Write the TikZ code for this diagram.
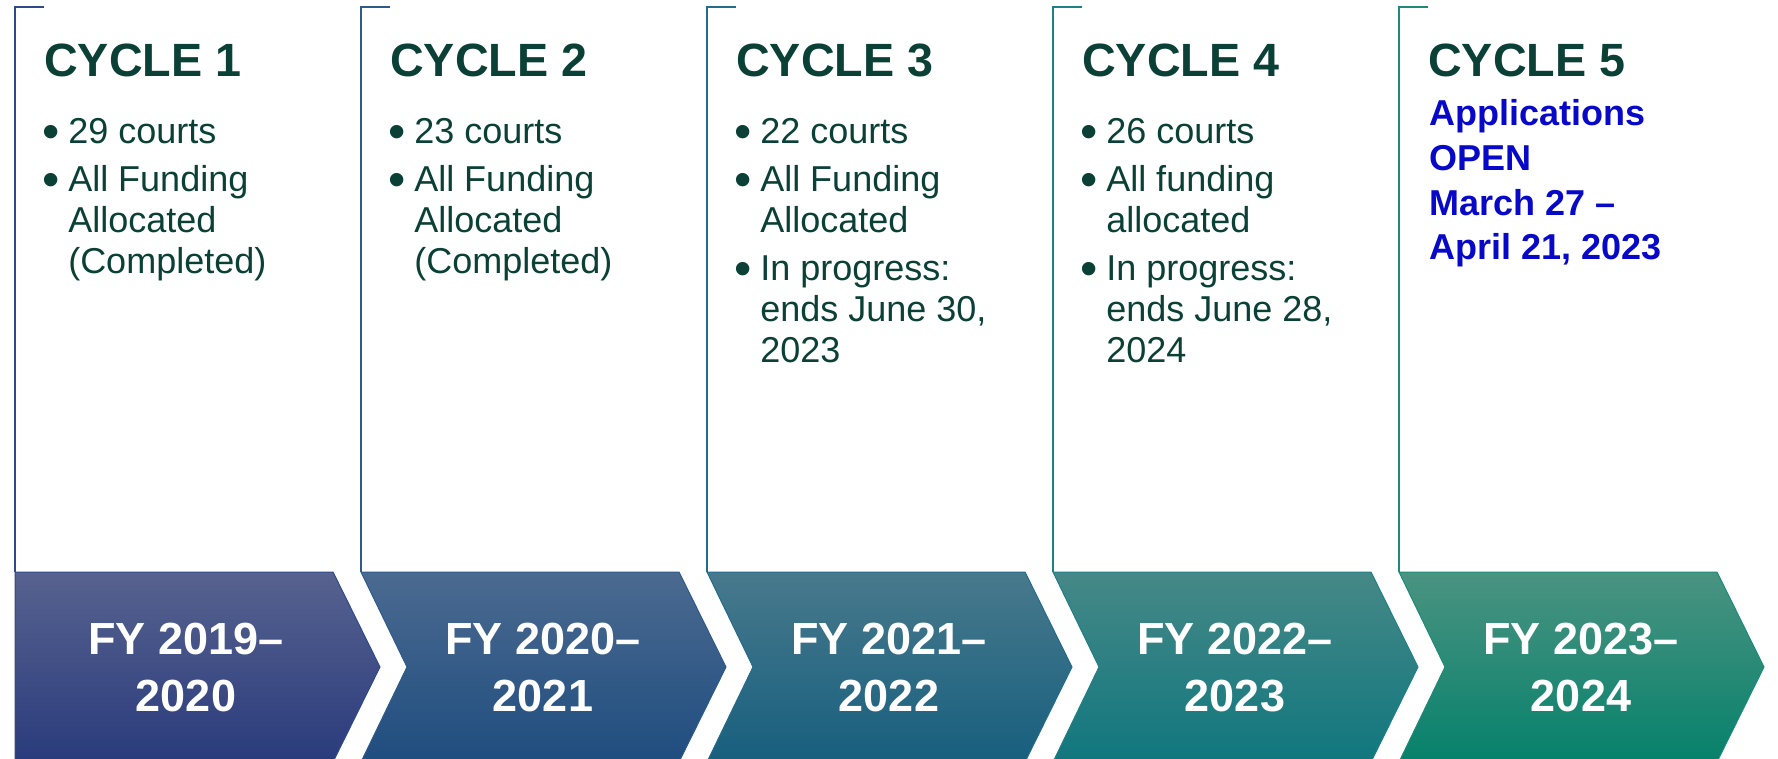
\documentclass[tikz,border=0pt]{standalone}
\usepackage{fontspec}
\usepackage{graphicx}
\setmainfont{Liberation Sans}

\definecolor{cycgreen}{RGB}{10,64,53}
\definecolor{openblue}{RGB}{8,8,200}
% bracket lines
\definecolor{lineA}{RGB}{47,74,139}
\definecolor{lineB}{RGB}{46,90,140}
\definecolor{lineC}{RGB}{35,108,140}
\definecolor{lineD}{RGB}{31,128,136}
\definecolor{lineE}{RGB}{28,140,120}
% chevron fills
\definecolor{topA}{RGB}{87,98,143}
\definecolor{botA}{RGB}{42,59,124}
\definecolor{topB}{RGB}{75,106,144}
\definecolor{botB}{RGB}{31,77,127}
\definecolor{topC}{RGB}{72,121,140}
\definecolor{botC}{RGB}{23,95,126}
\definecolor{topD}{RGB}{70,136,135}
\definecolor{botD}{RGB}{16,119,126}
\definecolor{topE}{RGB}{74,147,129}
\definecolor{botE}{RGB}{6,129,107}

% larger list bullet
\newcommand{\cycdot}{\makebox[9.45pt][c]{\raisebox{-3.6pt}{\fontsize{37}{37}\selectfont\textbullet}}}

\tikzset{
  bracket/.style={line width=1.1pt},
  cychead/.style={anchor=base west, inner sep=0pt, text=cycgreen, font=\fontsize{35}{40}\selectfont\bfseries},
  cyclist/.style={anchor=base west, inner sep=0pt, text=cycgreen, font=\fontsize{27}{30.75}\selectfont},
  openlist/.style={anchor=base west, inner sep=0pt, text=openblue, font=\fontsize{27}{33.5}\selectfont\bfseries},
  fylabel/.style={inner sep=0pt, text=white, align=center, font=\fontsize{33.75}{42.75}\selectfont\bfseries},
}

\begin{document}
\begin{tikzpicture}[x=0.75pt,y=0.75pt,yscale=-1,xscale=1]
\useasboundingbox (0,0) rectangle (1778,759);

%Shape: Pentagon [id:fy1] 
\draw [draw=lineA, line width=0.75, top color=topA, middle color=botA, bottom color=botA]  (15,572) -- (333,572) -- (380,667) -- (333,762) -- (15,762) -- cycle ;
%Shape: Chevron [id:fy2] 
\draw [draw=lineB, line width=0.75, top color=topB, middle color=botB, bottom color=botB]  (361,572) -- (679,572) -- (726,667) -- (679,762) -- (361,762) -- (407,667) -- cycle ;
%Shape: Chevron [id:fy3] 
\draw [draw=lineC, line width=0.75, top color=topC, middle color=botC, bottom color=botC]  (707,572) -- (1025,572) -- (1072,667) -- (1025,762) -- (707,762) -- (753,667) -- cycle ;
%Shape: Chevron [id:fy4] 
\draw [draw=lineD, line width=0.75, top color=topD, middle color=botD, bottom color=botD]  (1053,572) -- (1371,572) -- (1418,667) -- (1371,762) -- (1053,762) -- (1099,667) -- cycle ;
%Shape: Chevron [id:fy5] 
\draw [draw=lineE, line width=0.75, top color=topE, middle color=botE, bottom color=botE]  (1399,572) -- (1717,572) -- (1764,667) -- (1717,762) -- (1399,762) -- (1445,667) -- cycle ;

%Straight Lines [id:br1] 
\draw [bracket, color=lineA]  (44,7) -- (15,7) -- (15,572) ;
%Straight Lines [id:br2] 
\draw [bracket, color=lineB]  (390,7) -- (361,7) -- (361,572) ;
%Straight Lines [id:br3] 
\draw [bracket, color=lineC]  (736,7) -- (707,7) -- (707,572) ;
%Straight Lines [id:br4] 
\draw [bracket, color=lineD]  (1082,7) -- (1053,7) -- (1053,572) ;
%Straight Lines [id:br5] 
\draw [bracket, color=lineE]  (1428,7) -- (1399,7) -- (1399,572) ;

% Text Node
\draw (44,77) node (cyc1) [cychead] {CYCLE 1};
% Text Node
\draw (45,144) node (list1) [cyclist] {\begin{tabular}[t]{@{}l@{\hspace{7.8pt}}l@{}}
\cycdot & 29 courts\\[5pt]
\cycdot & All Funding\\
 & Allocated\\
 & (Completed)
\end{tabular}};
% Text Node
\draw (186,668) node (fy1) [fylabel] {FY 2019–\\2020};

% Text Node
\draw (390,77) node (cyc2) [cychead] {CYCLE 2};
% Text Node
\draw (391,144) node (list2) [cyclist] {\begin{tabular}[t]{@{}l@{\hspace{7.8pt}}l@{}}
\cycdot & 23 courts\\[5pt]
\cycdot & All Funding\\
 & Allocated\\
 & (Completed)
\end{tabular}};
% Text Node
\draw (543,668) node (fy2) [fylabel] {FY 2020–\\2021};

% Text Node
\draw (736,77) node (cyc3) [cychead] {CYCLE 3};
% Text Node
\draw (737,144) node (list3) [cyclist] {\begin{tabular}[t]{@{}l@{\hspace{7.8pt}}l@{}}
\cycdot & 22 courts\\[5pt]
\cycdot & All Funding\\
 & Allocated\\[5pt]
\cycdot & In progress:\\
 & ends June 30,\\
 & 2023
\end{tabular}};
% Text Node
\draw (889,668) node (fy3) [fylabel] {FY 2021–\\2022};

% Text Node
\draw (1082,77) node (cyc4) [cychead] {CYCLE 4};
% Text Node
\draw (1083,144) node (list4) [cyclist] {\begin{tabular}[t]{@{}l@{\hspace{7.8pt}}l@{}}
\cycdot & 26 courts\\[5pt]
\cycdot & All funding\\
 & allocated\\[5pt]
\cycdot & In progress:\\
 & ends June 28,\\
 & 2024
\end{tabular}};
% Text Node
\draw (1235,668) node (fy4) [fylabel] {FY 2022–\\2023};

% Text Node
\draw (1428,77) node (cyc5) [cychead] {CYCLE 5};
% Text Node
\draw (1429,126) node (open5) [openlist] {\begin{tabular}[t]{@{}l@{}}
Applications\\
OPEN\\
March 27 –\\
April 21, 2023
\end{tabular}};
% Text Node
\draw (1581,668) node (fy5) [fylabel] {FY 2023–\\2024};

\end{tikzpicture}
\end{document}
